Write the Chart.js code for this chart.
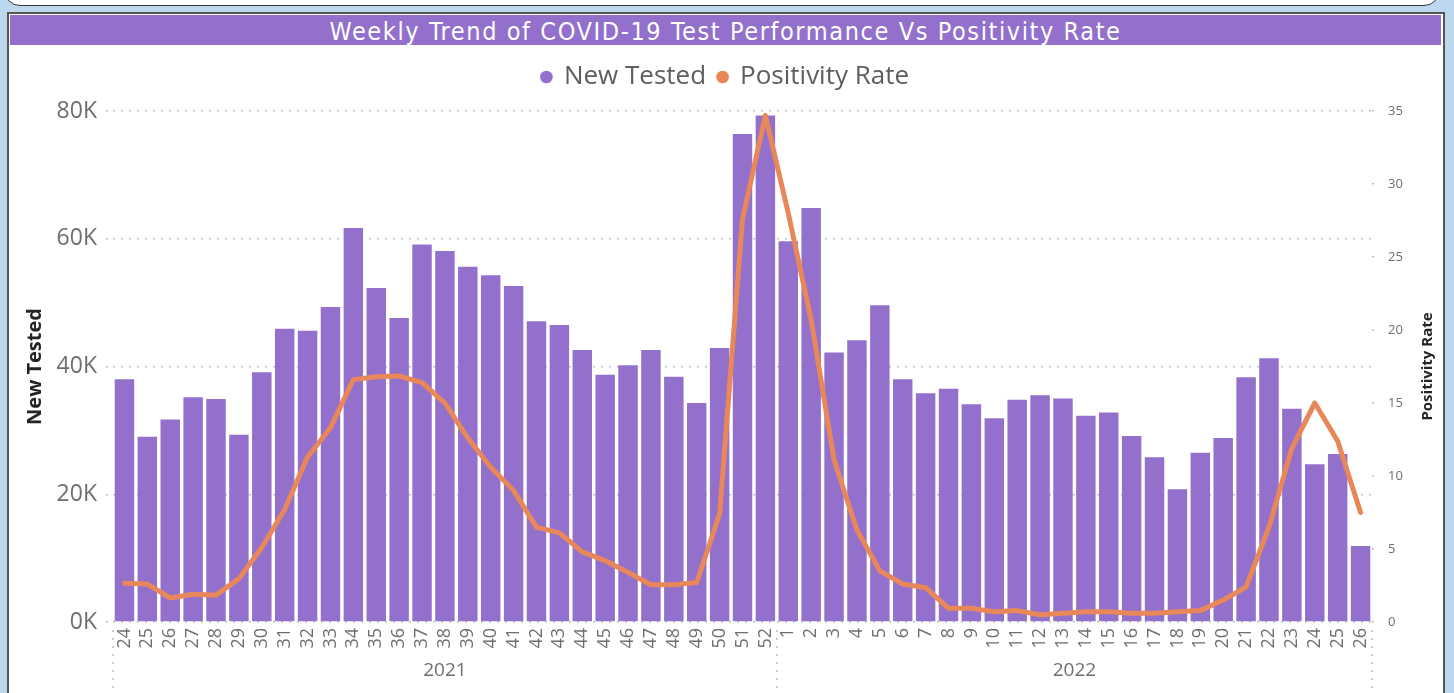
<!DOCTYPE html>
<html>
<head>
<meta charset="utf-8">
<script src="https://cdn.jsdelivr.net/npm/chart.js@4.4.1/dist/chart.umd.min.js"></script>
<style>
html,body{margin:0;padding:0;width:1454px;height:693px;overflow:hidden;background:#BDD7EE;}
#topbox{position:absolute;left:4px;top:-14px;width:1434px;height:18px;background:#fff;border:1.5px solid #333;border-radius:0 0 16px 16px;}
#frame{position:absolute;left:7px;top:12px;width:1434px;height:700px;background:#fff;border:2px solid #555;border-bottom:none;}
#titlebar{position:absolute;left:10px;top:15px;width:1431px;height:30px;background:#9370CC;color:#fff;
  font-family:"Liberation Sans Narrow","DejaVu Sans Condensed","Roboto",sans-serif;font-stretch:condensed;
  font-size:25px;letter-spacing:1.6px;line-height:34px;text-align:center;white-space:nowrap;}
#c{position:absolute;left:10px;top:45px;}
</style>
</head>
<body>
<div id="topbox"></div>
<div id="frame"></div>
<div id="titlebar">Weekly Trend of COVID-19 Test Performance Vs Positivity Rate</div>
<canvas id="c" width="1431" height="648"></canvas>
<script>
// ---- data ----
const weekLabels = ['24','25','26','27','28','29','30','31','32','33','34','35','36','37','38','39','40','41','42','43','44','45','46','47','48','49','50','51','52',
                    '1','2','3','4','5','6','7','8','9','10','11','12','13','14','15','16','17','18','19','20','21','22','23','24','25','26'];
const yearLabels = ['2021','2022'];
const yearWeekCounts = [29, 26];
const newTested = [38000,29000,31700,35200,34900,29300,39100,45900,45600,49300,61700,52300,47600,59100,58100,55600,54300,52600,47100,46500,42600,38700,40200,42600,38400,34300,42900,76400,79300,
                   59600,64800,42200,44100,49600,38000,35800,36500,34100,31900,34800,35500,35000,32300,32800,29100,25800,20800,26500,28800,38300,41300,33400,24700,26300,11900];
const positivityRate = [2.66,2.6,1.65,1.9,1.84,2.97,5.1,7.7,11.3,13.3,16.6,16.8,16.85,16.4,15.0,12.6,10.6,9.0,6.5,6.1,4.8,4.2,3.4,2.55,2.55,2.7,7.4,27.6,34.7,
                        28.0,20.7,11.1,6.3,3.5,2.6,2.35,0.94,0.94,0.7,0.78,0.5,0.6,0.7,0.7,0.6,0.6,0.7,0.78,1.5,2.4,6.5,11.9,15.0,12.4,7.5];
const leftAxisTitle = 'New Tested';
const rightAxisTitle = 'Positivity Rate';

// ---- style ----
const BAR = '#9370CC';
const LINE = '#E8875A';
const TICK = '#6E6E6E';
const GRID = '#BDBDBD';
const FONT = '"Open Sans","Noto Sans",sans-serif';

const legendGap = {
  id: 'legendGap',
  beforeLayout(chart) {
    const lg = chart.legend;
    if (lg && !lg._gapPatched) {
      const f = lg.fit;
      lg.fit = function () { f.call(this); this.height += 11; };
      lg._gapPatched = true;
    }
  }
};

const extras = {
  id: 'extras',
  afterDraw(chart) {
    const ctx = chart.ctx;
    const xs = chart.scales.x;
    const ca = chart.chartArea;
    const step = xs.getPixelForValue(1) - xs.getPixelForValue(0);
    ctx.save();
    let start = 0;
    const bounds = [];
    yearLabels.forEach((yl, i) => {
      const end = start + yearWeekCounts[i] - 1;
      const x0 = xs.getPixelForValue(start) - step / 2;
      const x1 = xs.getPixelForValue(end) + step / 2;
      if (i === 0) bounds.push(x0);
      bounds.push(x1);
      ctx.fillStyle = TICK;
      ctx.font = '19px ' + FONT;
      ctx.textAlign = 'center';
      ctx.textBaseline = 'middle';
      ctx.fillText(yl, (x0 + x1) / 2, ca.bottom + 49);
      start = end + 1;
    });
    ctx.strokeStyle = GRID;
    ctx.lineWidth = 1.5;
    ctx.setLineDash([2, 6]);
    bounds.forEach(x => {
      ctx.beginPath();
      ctx.moveTo(x, ca.bottom + 8);
      ctx.lineTo(x, chart.height);
      ctx.stroke();
    });
    ctx.setLineDash([]);
    const y1 = chart.scales.y1;
    ctx.translate(y1.right - 13, (ca.top + ca.bottom) / 2);
    ctx.rotate(-Math.PI / 2);
    ctx.fillStyle = '#252423';
    ctx.font = 'bold 15px ' + FONT;
    ctx.textAlign = 'center';
    ctx.textBaseline = 'middle';
    ctx.fillText(rightAxisTitle, 0, 0);
    ctx.restore();
  }
};

new Chart(document.getElementById('c'), {
  data: {
    labels: weekLabels,
    datasets: [
      { type: 'bar', label: 'New Tested', data: newTested, yAxisID: 'y', order: 2,
        backgroundColor: BAR, borderWidth: 0, barPercentage: 0.85, categoryPercentage: 1.0 },
      { type: 'line', label: 'Positivity Rate', data: positivityRate, yAxisID: 'y1', order: 1,
        borderColor: LINE, backgroundColor: LINE, borderWidth: 5, pointRadius: 0, tension: 0,
        borderJoinStyle: 'round', borderCapStyle: 'round' }
    ]
  },
  options: {
    responsive: false,
    animation: false,
    devicePixelRatio: 1,
    layout: { padding: { top: 7, left: 0, right: 0, bottom: 0 } },
    plugins: {
      legend: {
        display: true,
        position: 'top',
        labels: {
          usePointStyle: true,
          pointStyle: 'circle',
          boxWidth: 9, boxHeight: 9,
          padding: 12,
          color: '#605E5C',
          font: { size: 26, family: FONT },
          sort: (a, b) => a.datasetIndex - b.datasetIndex,
          generateLabels(chart) {
            return Chart.defaults.plugins.legend.labels.generateLabels(chart).map(i => Object.assign(i, { lineWidth: 0 }));
          }
        }
      },
      tooltip: { enabled: false },
      title: { display: false }
    },
    scales: {
      x: {
        type: 'category',
        grid: { display: false, drawTicks: false },
        border: { display: false },
        ticks: { autoSkip: false, minRotation: 90, maxRotation: 90, padding: 6, color: TICK, font: { size: 18, family: FONT } },
        afterFit(s) { s.height = 71; }
      },
      y: {
        type: 'linear', position: 'left', min: 0, max: 80000,
        border: { display: false, dash: [2, 6] },
        grid: { color: GRID, lineWidth: 1.5, drawTicks: true, tickLength: 7, tickColor: GRID, tickBorderDash: [2, 6] },
        ticks: { stepSize: 20000, padding: 9, color: TICK, font: { size: 23, family: FONT },
                 callback: v => (v / 1000) + 'K' },
        title: { display: true, text: leftAxisTitle, color: '#252423', font: { size: 20, weight: 'bold', family: FONT }, padding: { top: 13, bottom: 0 } },
        afterFit(s) { s.width = 103; }
      },
      y1: {
        type: 'linear', position: 'right', min: 0, max: 35,
        border: { display: false, dash: [2, 6] },
        grid: { drawOnChartArea: false, drawTicks: true, tickLength: 7, tickColor: GRID, lineWidth: 1.5, tickBorderDash: [2, 6] },
        ticks: { stepSize: 5, padding: 9, color: TICK, font: { size: 13, family: FONT } },
        title: { display: false },
        afterFit(s) { s.width = 69; }
      }
    }
  },
  plugins: [legendGap, extras]
});
</script>
</body>
</html>
